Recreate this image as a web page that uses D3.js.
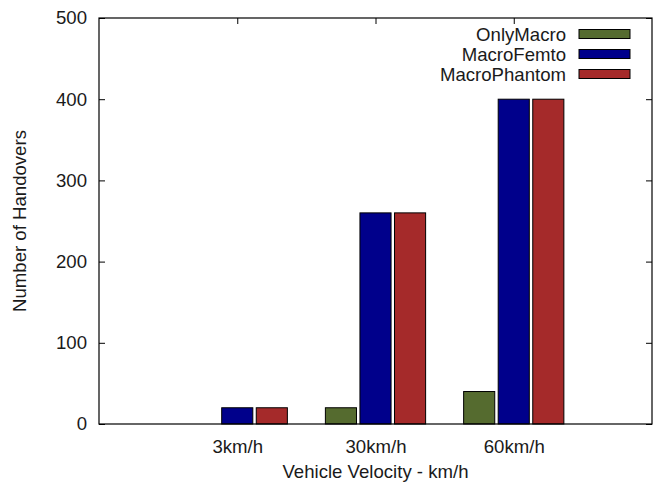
<!DOCTYPE html>
<html><head><meta charset="utf-8">
<script src="https://cdn.jsdelivr.net/npm/d3@7"></script>
<style>body{margin:0;background:#fff}svg{display:block}text{font-family:"Liberation Sans",Arial,sans-serif;fill:#1a1a1a}</style>
</head><body>
<script>
const categories = ["3km/h", "30km/h", "60km/h"];
const seriesNames = ["OnlyMacro", "MacroFemto", "MacroPhantom"];
const onlyMacro = [0, 20, 40];
const macroFemto = [20, 260, 400];
const macroPhantom = [20, 260, 400];
const seriesColors = ["#556B2F", "#00008B", "#A52A2A"];
const yTicks = [0, 100, 200, 300, 400, 500];

const W = 659, H = 484;
const L = 99, R = 652, T = 18, B = 424;
const fs = 18.6;
const svg = d3.select("body").append("svg").attr("width", W).attr("height", H);

const x = d3.scaleLinear().domain([-1, 3]).range([L, R]);
const y = d3.scaleLinear().domain([0, 500]).range([B, T]);

const series = [onlyMacro, macroFemto, macroPhantom];
const bw = 0.225, step = 0.25;

// axes
const ax = svg.append("g");
const yAxisL = d3.axisLeft(y).tickValues(yTicks).tickSize(-6).tickPadding(12).tickFormat(d3.format("d"));
const gL = ax.append("g").attr("transform", `translate(${L},0)`).call(yAxisL);
const gR = ax.append("g").attr("transform", `translate(${R},0)`).call(d3.axisRight(y).tickValues(yTicks).tickSize(-6).tickFormat(""));
const gB = ax.append("g").attr("transform", `translate(0,${B})`).call(
  d3.axisBottom(x).tickValues([0, 1, 2]).tickSize(-6).tickPadding(16).tickFormat(i => categories[i]));
const gT = ax.append("g").attr("transform", `translate(0,${T})`).call(
  d3.axisTop(x).tickValues([0, 1, 2]).tickSize(-6).tickFormat(""));
[gL, gR, gB, gT].forEach(g => {
  g.select(".domain").remove();
  g.selectAll("line").attr("stroke", "#000");
  g.selectAll("text").attr("font-size", fs).attr("font-family", null).attr("fill", "#1a1a1a");
});

// bars
series.forEach((vals, si) => {
  svg.append("g").selectAll("rect").data(vals).join("rect")
    .attr("x", (d, i) => x(i + (si - 1) * step - bw / 2))
    .attr("width", x(bw) - x(0))
    .attr("y", d => y(d))
    .attr("height", d => y(0) - y(d))
    .attr("fill", seriesColors[si])
    .attr("stroke", d => d > 0 ? "#000" : "none")
    .attr("stroke-width", 1);
});

svg.append("rect").attr("x", L).attr("y", T).attr("width", R - L).attr("height", B - T)
  .attr("fill", "none").attr("stroke", "#000").attr("stroke-width", 1.2);

// axis titles
svg.append("text").attr("x", (L + R) / 2).attr("y", 478).attr("text-anchor", "middle")
  .attr("font-size", fs).text("Vehicle Velocity - km/h");
svg.append("text").attr("transform", `translate(26,${(T + B) / 2}) rotate(-90)`)
  .attr("text-anchor", "middle").attr("font-size", fs).text("Number of Handovers");

// legend
const lg = svg.append("g");
seriesNames.forEach((n, i) => {
  const cy = 34 + i * 20;
  lg.append("text").attr("x", 566).attr("y", cy + 6.5).attr("text-anchor", "end")
    .attr("font-size", fs).text(n);
  lg.append("rect").attr("x", 579).attr("y", cy - 4.5).attr("width", 51).attr("height", 9)
    .attr("fill", seriesColors[i]).attr("stroke", "#000").attr("stroke-width", 1);
});
</script>
</body></html>
